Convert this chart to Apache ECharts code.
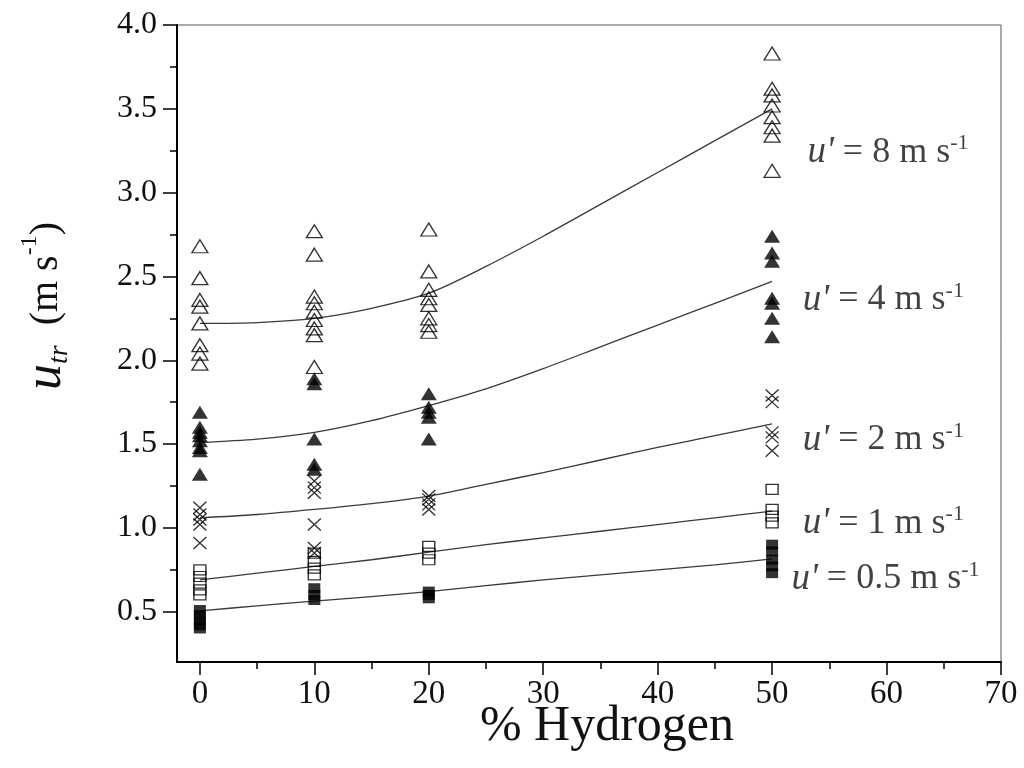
<!DOCTYPE html>
<html><head><meta charset="utf-8">
<script src="https://cdn.jsdelivr.net/npm/echarts@6/dist/echarts.min.js"></script>
<style>html,body{margin:0;padding:0;background:#fff}#c{width:1024px;height:768px}</style>
</head><body><div id="c"></div>
<script>
// ---- axis ticks ----
const xTicks = [0, 10, 20, 30, 40, 50, 60, 70];
const xMinorTicks = [5, 15, 25, 35, 45, 55, 65];
const yTicks = [0.5, 1.0, 1.5, 2.0, 2.5, 3.0, 3.5, 4.0];
const yMinorTicks = [0.75, 1.25, 1.75, 2.25, 2.75, 3.25, 3.75];

// ---- measured points [x (% H2), u_tr] ----
const u8Points = [
  [0,2.68],[0,2.49],[0,2.36],[0,2.32],[0,2.22],[0,2.09],[0,2.04],[0,1.98],
  [10,2.77],[10,2.63],[10,2.38],[10,2.34],[10,2.29],[10,2.24],[10,2.19],[10,2.15],[10,1.96],
  [20,2.78],[20,2.53],[20,2.42],[20,2.37],[20,2.33],[20,2.25],[20,2.21],[20,2.17],
  [50,3.83],[50,3.62],[50,3.58],[50,3.52],[50,3.45],[50,3.39],[50,3.34],[50,3.13]
];
const u4Points = [
  [0,1.69],[0,1.60],[0,1.57],[0,1.55],[0,1.52],[0,1.48],[0,1.46],[0,1.32],
  [10,1.89],[10,1.86],[10,1.53],[10,1.38],[10,1.35],
  [20,1.80],[20,1.72],[20,1.69],[20,1.66],[20,1.53],
  [50,2.74],[50,2.64],[50,2.59],[50,2.37],[50,2.34],[50,2.25],[50,2.14]
];
const u2Points = [
  [0,1.12],[0,1.08],[0,1.05],[0,1.02],[0,0.91],
  [10,1.28],[10,1.24],[10,1.21],[10,1.02],[10,0.88],[10,0.85],
  [20,1.19],[20,1.17],[20,1.14],[20,1.11],
  [50,1.79],[50,1.75],[50,1.57],[50,1.54],[50,1.46]
];
const u1Points = [
  [0,0.75],[0,0.71],[0,0.67],[0,0.63],[0,0.60],
  [10,0.85],[10,0.80],[10,0.76],[10,0.72],
  [20,0.89],[20,0.85],[20,0.81],
  [50,1.23],[50,1.11],[50,1.07],[50,1.03]
];
const u05Points = [
  [0,0.51],[0,0.48],[0,0.45],[0,0.42],[0,0.40],
  [10,0.64],[10,0.60],[10,0.57],
  [20,0.62],[20,0.60],[20,0.58],
  [50,0.90],[50,0.86],[50,0.81],[50,0.77],[50,0.73]
];

// ---- fitted curves ----
const fitX = [0, 5, 10, 15, 20, 25, 30, 35, 40, 45, 50];
const fit8 = [2.22, 2.225, 2.25, 2.31, 2.40, 2.56, 2.74, 2.93, 3.12, 3.31, 3.50];
const fit4 = [1.51, 1.53, 1.57, 1.64, 1.73, 1.83, 1.95, 2.08, 2.21, 2.34, 2.47];
const fit2 = [1.06, 1.08, 1.11, 1.145, 1.19, 1.26, 1.33, 1.405, 1.48, 1.55, 1.62];
const fit1 = [0.69, 0.73, 0.77, 0.81, 0.855, 0.90, 0.94, 0.98, 1.02, 1.06, 1.10];
const fit05 = [0.505, 0.535, 0.563, 0.59, 0.62, 0.655, 0.69, 0.72, 0.75, 0.78, 0.815];

// ---- curve annotations ----
const annText = ['8', '4', '2', '1', '0.5'];
const annX = [53.0, 52.6, 52.6, 52.6, 51.6];
const annY = [3.24, 2.36, 1.525, 1.025, 0.695];

const FONT = 'Liberation Serif';
const chart = echarts.init(document.getElementById('c'));

function pairs(xs, ys) { return xs.map((x, i) => [x, ys[i]]); }

const fitStyle = { color: '#3a3a3a', width: 1.3 };
function fitSeries(name, ys) {
  return { name, type: 'line', data: pairs(fitX, ys), smooth: 0.3, showSymbol: false,
    symbol: 'none', lineStyle: fitStyle, z: 2, silent: true };
}
const openStyle = { color: 'rgba(0,0,0,0)', borderColor: '#000', borderWidth: 1.3 };
const filledStyle = { color: '#000' };

const annData = annText.map((t, i) => [annX[i], annY[i], t]);

chart.setOption({
  animation: false,
  backgroundColor: '#fff',
  grid: { left: 177, right: 23, top: 25, bottom: 106, show: true, borderColor: '#555', borderWidth: 1,
    outerBoundsMode: 'none', containLabel: false },
  xAxis: [{
    type: 'value', min: -2, max: 70, position: 'bottom',
    name: '% Hydrogen', nameLocation: 'middle', nameGap: 40, nameMoveOverlap: false,
    nameTextStyle: { fontFamily: FONT, fontSize: 50, color: '#111', padding: [0, 0, 0, 36] },
    axisLine: { show: true, onZero: false, lineStyle: { color: '#000', width: 2 } },
    axisTick: { show: true, customValues: xTicks, length: 13, lineStyle: { color: '#000', width: 1.5 } },
    axisLabel: { show: true, customValues: xTicks, margin: 16, fontFamily: FONT, fontSize: 33, color: '#111' },
    splitLine: { show: false }
  }, {
    type: 'value', min: -2, max: 70, position: 'bottom',
    axisLine: { show: false, onZero: false },
    axisTick: { show: true, customValues: xMinorTicks, length: 7, lineStyle: { color: '#000', width: 1.5 } },
    axisLabel: { show: false }, splitLine: { show: false }
  }],
  yAxis: [{
    type: 'value', min: 0.2, max: 4.0, position: 'left',
    axisLine: { show: true, onZero: false, lineStyle: { color: '#000', width: 2 } },
    axisTick: { show: true, customValues: yTicks, length: 14, lineStyle: { color: '#000', width: 1.5 } },
    axisLabel: { show: true, customValues: yTicks, margin: 20, fontFamily: FONT, fontSize: 32, color: '#111',
      formatter: v => v.toFixed(1) },
    splitLine: { show: false }
  }, {
    type: 'value', min: 0.2, max: 4.0, position: 'left',
    axisLine: { show: false, onZero: false },
    axisTick: { show: true, customValues: yMinorTicks, length: 7, lineStyle: { color: '#000', width: 1.5 } },
    axisLabel: { show: false }, splitLine: { show: false }
  }],
  graphic: [{
    type: 'text', x: 46, y: 306, rotation: Math.PI / 2,
    style: {
      text: '{u|u}{sub|tr}  (m s{sup|-1})',
      align: 'center', verticalAlign: 'middle',
      fill: '#111', fontFamily: FONT, fontSize: 40,
      rich: {
        u: { fontFamily: FONT, fontStyle: 'italic', fontSize: 52, fill: '#111', lineHeight: 56 },
        sub: { fontFamily: FONT, fontStyle: 'italic', fontSize: 28, fill: '#111', verticalAlign: 'bottom', lineHeight: 28 },
        sup: { fontFamily: FONT, fontSize: 24, fill: '#111', verticalAlign: 'top', lineHeight: 24 }
      }
    }
  }],
  series: [
    fitSeries('fit8', fit8), fitSeries('fit4', fit4), fitSeries('fit2', fit2),
    fitSeries('fit1', fit1), fitSeries('fit05', fit05),
    { name: "u'=8", type: 'scatter', data: u8Points, symbol: 'triangle', symbolSize: [16, 13], itemStyle: openStyle, z: 3 },
    { name: "u'=4", type: 'scatter', data: u4Points, symbol: 'triangle', symbolSize: [16, 13], itemStyle: filledStyle, z: 3 },
    { name: "u'=2", type: 'scatter', data: u2Points, symbol: 'path://M0,0L10,10M10,0L0,10', symbolSize: [13, 12],
      itemStyle: { color: 'rgba(0,0,0,0)', borderColor: '#000', borderWidth: 1.3 }, z: 3 },
    { name: "u'=1", type: 'scatter', data: u1Points, symbol: 'rect', symbolSize: [12, 10], itemStyle: openStyle, z: 3 },
    { name: "u'=0.5", type: 'scatter', data: u05Points, symbol: 'rect', symbolSize: [12, 10], itemStyle: filledStyle, z: 3 },
    { name: 'labels', type: 'scatter', data: annData, symbolSize: 2, itemStyle: { color: 'rgba(0,0,0,0)' }, silent: true, z: 4,
      label: {
        show: true, position: 'right', distance: 0, color: '#111',
        fontFamily: FONT, fontSize: 36, lineHeight: 40,
        formatter: p => "{i|u'} = " + p.data[2] + ' m s{sup|-1}',
        rich: {
          i: { fontFamily: FONT, fontStyle: 'italic', fontSize: 37, color: '#111', lineHeight: 40 },
          sup: { fontFamily: FONT, fontSize: 22, color: '#111', verticalAlign: 'top', lineHeight: 22 }
        }
      } }
  ]
});
</script>
</body></html>
